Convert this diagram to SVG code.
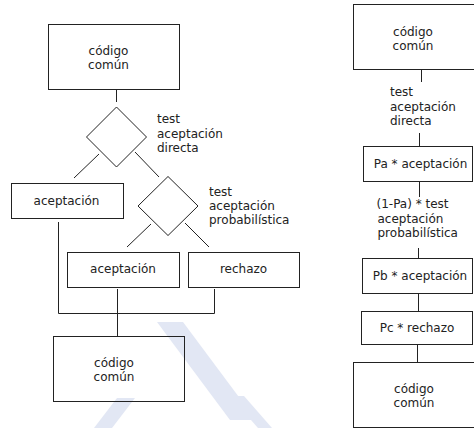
<svg xmlns="http://www.w3.org/2000/svg" width="474" height="428" viewBox="0 0 474 428">
<style>
.b{fill:none;stroke:#222;stroke-width:1}
.d{fill:none;stroke:#222;stroke-width:1}
.c{fill:none;stroke:#222;stroke-width:1}
text{font-family:"DejaVu Sans",sans-serif;font-size:12px;fill:#222}
.m{text-anchor:middle}
.wm{fill:#e2e7f4;stroke:none}
</style>
<rect width="474" height="428" fill="#fff"/>
<g id="watermark">
<polygon class="wm" points="157,322 183,322 256,420 230,420"/>
<polygon class="wm" points="117,398 135,398 112,428 94,428"/>
<polygon class="wm" points="230,396 244,396 272,428 258,428"/>
</g>
<g id="connectors">
<line class="c" x1="116.5" y1="89" x2="116.5" y2="102"/>
<line class="c" x1="99" y1="154" x2="74" y2="178"/>
<line class="c" x1="135" y1="152" x2="159" y2="177"/>
<line class="c" x1="151" y1="224" x2="127" y2="247"/>
<line class="c" x1="185" y1="223" x2="209" y2="247"/>
<polyline class="c" points="58.5,222 58.5,313.5 214.5,313.5 214.5,289"/>
<line class="c" x1="117.5" y1="289" x2="117.5" y2="336"/>
<line class="c" x1="421.5" y1="69" x2="421.5" y2="82"/>
<line class="c" x1="419.5" y1="133" x2="419.5" y2="146"/>
<line class="c" x1="419.5" y1="182" x2="419.5" y2="197"/>
<line class="c" x1="418.5" y1="248" x2="418.5" y2="258"/>
<line class="c" x1="418.5" y1="293" x2="418.5" y2="311"/>
<line class="c" x1="417.5" y1="344" x2="417.5" y2="362"/>
</g>
<g id="n1"><rect class="b" x="48.5" y="24.5" width="131" height="65"/><text class="m" x="108.5" y="55">código</text><text class="m" x="108.5" y="69">común</text></g>
<g id="n2"><polygon class="d" points="116.5,107 146.5,137 116.5,167 86.5,137"/><text x="157" y="123">test</text><text x="157" y="137.5">aceptación</text><text x="157" y="152">directa</text></g>
<g id="n3"><rect class="b" x="11.5" y="183.5" width="112" height="35"/><text class="m" x="66.5" y="205">aceptación</text></g>
<g id="n4"><polygon class="d" points="168,176.5 198,206 168,235.5 138,206"/><text x="209" y="196">test</text><text x="209" y="210">aceptación</text><text x="209" y="224">probabilística</text></g>
<g id="n5"><rect class="b" x="67.5" y="252.5" width="112" height="35"/><text class="m" x="123" y="273">aceptación</text></g>
<g id="n6"><rect class="b" x="188.5" y="252.5" width="111" height="35"/><text class="m" x="243.5" y="273">rechazo</text></g>
<g id="n7"><rect class="b" x="53.5" y="336.5" width="131" height="65"/><text class="m" x="114" y="367">código</text><text class="m" x="114" y="381">común</text></g>
<g id="r1"><rect class="b" x="353.5" y="4.5" width="131" height="65"/><text class="m" x="413" y="36">código</text><text class="m" x="413" y="49.5">común</text></g>
<g id="r2"><text x="390" y="96">test</text><text x="390" y="110.5">aceptación</text><text x="390" y="125">directa</text></g>
<g id="r3"><rect class="b" x="363.5" y="146.5" width="109" height="35"/><text class="m" x="420.5" y="167.5">Pa * aceptación</text></g>
<g id="r4"><text x="376.5" y="208">(1-Pa) * test</text><text x="377.5" y="222.5">aceptación</text><text x="377.5" y="237">probabilística</text></g>
<g id="r5"><rect class="b" x="362.5" y="258.5" width="110" height="35"/><text class="m" x="420" y="279.5">Pb * aceptación</text></g>
<g id="r6"><rect class="b" x="361.5" y="311.5" width="111" height="33"/><text class="m" x="417" y="331.5">Pc * rechazo</text></g>
<g id="r7"><rect class="b" x="353.5" y="362.5" width="131" height="65"/><text class="m" x="414" y="392.5">código</text><text class="m" x="414" y="406.5">común</text></g>
</svg>
